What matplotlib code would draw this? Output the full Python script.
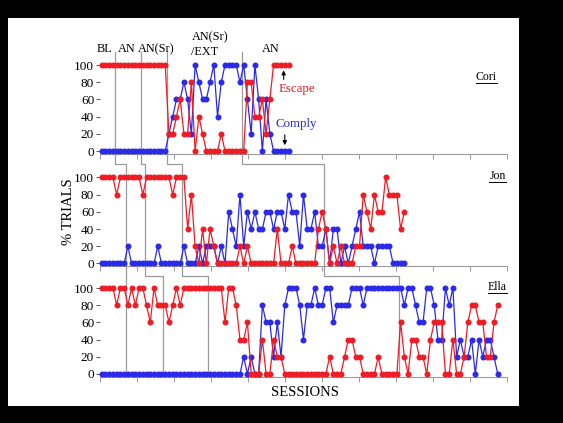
import matplotlib
matplotlib.use('Agg')
import matplotlib.pyplot as plt
from matplotlib.lines import Line2D
from matplotlib.patches import Rectangle
import numpy as np

plt.rcParams['font.family'] = ['Liberation Serif', 'DejaVu Serif']

# percent of trials per session
cori_escape = [100, 100, 100, 100, 100, 100, 100, 100, 100, 100, 100, 100, 100, 100, 100, 100, 100, 100,
               20, 20, 40, 60, 20, 20, 80, 0, 40, 20, 0, 0, 0, 0, 20, 0, 0, 0, 0, 0, 0,
               80, 80, 40, 40, 60, 20, 60, 100, 100, 100, 100, 100]
cori_comply = [0, 0, 0, 0, 0, 0, 0, 0, 0, 0, 0, 0, 0, 0, 0, 0, 0, 0,
               20, 40, 60, 60, 80, 60, 20, 100, 80, 60, 60, 80, 100, 40, 80, 100, 100, 100, 100, 80, 100,
               60, 20, 100, 60, 0, 60, 20, 0, 0, 0, 0, 0]

jon_escape = [100, 100, 100, 100, 80, 100, 100, 100, 100, 100, 100, 80, 100, 100, 100, 100, 100, 100, 100,
              80, 100, 100, 100, 40, 80, 20, 0, 40, 0, 40, 20, 0, 0, 0, 0, 0, 0, 20, 0, 20,
              0, 0, 0, 0, 0, 0, 0, 40, 0, 0, 0, 20, 0, 0, 0, 0, 0, 0, 40, 60,
              40, 0, 20, 0, 20, 0, 0, 0, 20, 20, 80, 60, 40, 80, 60, 60, 100, 80, 80, 80, 40, 60]
jon_comply = [0, 0, 0, 0, 0, 0, 0, 20, 0, 0, 0, 0, 0, 0, 0, 20, 0, 0, 0, 0, 0, 0, 20,
              0, 0, 0, 20, 0, 20, 20, 20, 0, 20, 0, 60, 40, 20, 80, 20, 60,
              40, 60, 40, 40, 60, 60, 40, 60, 60, 40, 80, 60, 60, 20, 80, 40, 40, 60, 20, 20,
              40, 0, 40, 40, 0, 20, 0, 20, 40, 60, 20, 20, 20, 0, 20, 20, 20, 20, 0, 0, 0, 0]

ella_escape = [100, 100, 100, 100, 80, 100, 100, 80, 100, 80, 100, 100, 80, 60, 100, 80, 80, 80, 60, 80,
               100, 80, 100, 100, 100, 100, 100, 100, 100, 100, 100, 100, 100, 60, 100, 100, 80, 40, 40, 60,
               0, 0, 0, 40, 0, 0, 40, 20, 20, 0, 0, 0, 0, 0, 0, 0, 0, 0, 0, 0,
               0, 20, 0, 0, 0, 20, 40, 40, 20, 20, 0, 0, 0, 0, 20, 0, 0, 0, 0, 0,
               60, 20, 0, 40, 40, 20, 20, 0, 40, 60, 60, 60, 0, 0, 40, 0, 0, 20, 60, 80,
               80, 60, 60, 20, 20, 60, 80]
ella_comply = [0, 0, 0, 0, 0, 0, 0, 0, 0, 0, 0, 0, 0, 0, 0, 0, 0, 0, 0, 0,
               0, 0, 0, 0, 0, 0, 0, 0, 0, 0, 0, 0, 0, 0, 0, 0, 0, 0, 20, 0,
               20, 0, 0, 80, 60, 60, 20, 60, 20, 80, 100, 100, 100, 80, 40, 80, 80, 100, 80, 80,
               100, 100, 60, 80, 80, 80, 80, 100, 100, 100, 80, 100, 100, 100, 100, 100, 100, 100, 100, 100,
               100, 80, 100, 100, 80, 60, 60, 100, 100, 80, 40, 40, 100, 80, 100, 20, 40, 20, 20, 40,
               0, 40, 20, 40, 40, 20, 0]

# sessions at which the phase changes (BL|AN, AN|AN(Sr), AN(Sr)|AN(Sr)/EXT, ..|AN)
cori_phases = [4.5, 11.5, 18.5, 38.5]
jon_phases = [7.5, 12.5, 22.5, 60.5]
ella_phases = [7.5, 17.5, 29.5, 80.5]

names = ['Cori', 'Jon', 'Ella']
escape = [cori_escape, jon_escape, ella_escape]
comply = [cori_comply, jon_comply, ella_comply]
phases = [cori_phases, jon_phases, ella_phases]

RED = '#ee1c24'
BLUE = '#2a2ae8'
GRAY = '#9a9a9a'

W, H = 563, 423
fig = plt.figure(figsize=(W / 100, H / 100), dpi=100, facecolor='black')
fig.add_artist(Rectangle((8 / W, 1 - 406 / H), (519 - 8) / W, (406 - 18) / H,
                         transform=fig.transFigure, facecolor='white', edgecolor='none', zorder=-3))

# layout in pixels
left, right = 99.7, 506.7
zero_px = [151, 263.5, 374]
scale = 0.86
ylo, yhi = -3, 104

axes = []
for i in range(3):
    bot = zero_px[i] - ylo * scale
    top = zero_px[i] - yhi * scale
    ax = fig.add_axes([left / W, 1 - bot / H, (right - left) / W, (bot - top) / H])
    ax.set_facecolor('none')
    x = np.arange(1, len(escape[i]) + 1)
    ax.plot(x, comply[i], '-o', color=BLUE, lw=0.9, ms=3.3, mec=BLUE, zorder=3, clip_on=False)
    ax.plot(x, escape[i], '-o', color=RED, lw=0.9, ms=3.3, mec=RED, zorder=4, clip_on=False)
    ax.set_xlim(0.46, 109.4)
    ax.set_ylim(ylo, yhi)
    ax.set_xticks(np.linspace(0.46, 109.4, 12))
    ax.set_xticklabels([])
    ax.set_yticks([0, 20, 40, 60, 80, 100])
    ax.tick_params(axis='x', direction='out', length=3.5, width=0.7, color=GRAY)
    ax.tick_params(axis='y', direction='out', length=3, width=0.7, color='#555555',
                   labelsize=9.5, pad=1)
    for s in ['top', 'right', 'left']:
        ax.spines[s].set_visible(False)
    ax.spines['bottom'].set_color(GRAY)
    ax.spines['bottom'].set_linewidth(0.8)
    axes.append(ax)

# phase change lines, stepping from panel to panel
to_fig = fig.transFigure.inverted()
for k in range(4):
    xc = phases[0][k]
    pts = [axes[0].transData.transform((xc, 115)), axes[0].transData.transform((xc, -15))]
    for j in (1, 2):
        xn = phases[j][k]
        pts.append((axes[j].transData.transform((xn, 0))[0], pts[-1][1]))
        yend = -15 if j == 1 else ylo
        pts.append(axes[j].transData.transform((xn, yend)))
    pts = to_fig.transform(np.array(pts))
    fig.add_artist(Line2D(pts[:, 0], pts[:, 1], color=GRAY, lw=0.9, zorder=-1))

# phase labels
a0 = axes[0]
fs = 8.8
a0.text(1.8, 118.6, 'BL', ha='center', va='center', fontsize=fs)
a0.text(7.8, 118.6, 'AN', ha='center', va='center', fontsize=fs)
a0.text(15.6, 118.6, 'AN(Sr)', ha='center', va='center', fontsize=fs)
a0.text(25.0, 132.6, 'AN(Sr)', ha='left', va='center', fontsize=fs)
a0.text(25.0, 115.5, '/EXT', ha='left', va='center', fontsize=fs)
a0.text(46.3, 118.6, 'AN', ha='center', va='center', fontsize=fs)

# escape / comply labels with arrows
a0.text(53.3, 72, 'Escape', color=RED, ha='center', va='center', fontsize=9.3)
a0.text(53.1, 31.4, 'Comply', color=BLUE, ha='center', va='center', fontsize=9.3)
a0.annotate('', xy=(49.7, 97), xytext=(49.7, 80),
            arrowprops=dict(arrowstyle='-|>', color='black', lw=0.8, mutation_scale=6))
a0.annotate('', xy=(50.0, 3.5), xytext=(50.0, 22),
            arrowprops=dict(arrowstyle='-|>', color='black', lw=0.8, mutation_scale=6))

# subject names, underlined
name_pos = [(0.976, 85.5), (0.9975, 101.7), (1.0, 100.6)]
name_txt = []
for i in range(3):
    t = axes[i].text(name_pos[i][0], name_pos[i][1], names[i], ha='right', va='center',
                     fontsize=8.5, transform=axes[i].get_yaxis_transform())
    name_txt.append(t)
fig.canvas.draw()
for t in name_txt:
    bb = t.get_window_extent()
    p = to_fig.transform([[bb.x0, bb.y0 + 0.5], [bb.x1, bb.y0 + 0.5]])
    fig.add_artist(Line2D(p[:, 0], p[:, 1], color='black', lw=0.7))

fig.text(69 / W, 1 - 212 / H, '% TRIALS', rotation=90, ha='center', va='center', fontsize=10.5)
fig.text(305.5 / W, 1 - 392 / H, 'SESSIONS', ha='center', va='center', fontsize=10.5)

fig.savefig('out.png', dpi=100, facecolor='black')
